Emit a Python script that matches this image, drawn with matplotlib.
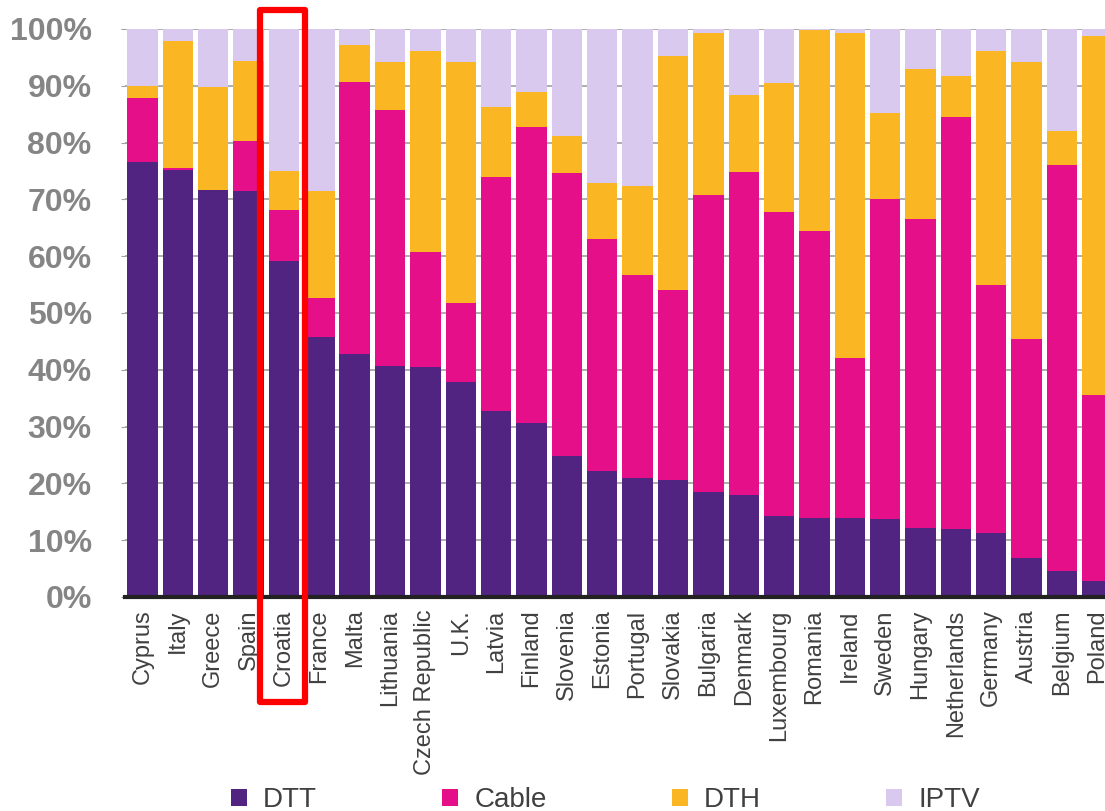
import matplotlib
matplotlib.use("Agg")
import matplotlib.pyplot as plt
import numpy as np
from matplotlib.patches import Patch, Rectangle

plt.rcParams["font.family"] = ["Liberation Sans", "DejaVu Sans"]

countries = ["Cyprus", "Italy", "Greece", "Spain", "Croatia", "France", "Malta",
             "Lithuania", "Czech Republic", "U.K.", "Latvia", "Finland", "Slovenia",
             "Estonia", "Portugal", "Slovakia", "Bulgaria", "Denmark", "Luxembourg",
             "Romania", "Ireland", "Sweden", "Hungary", "Netherlands", "Germany",
             "Austria", "Belgium", "Poland"]

dtt = [76.5, 75.2, 71.7, 71.5, 59.1, 45.7, 42.7, 40.7, 40.4, 37.9, 32.8, 30.7, 24.9,
       22.1, 21.0, 20.6, 18.4, 18.0, 14.3, 13.9, 13.9, 13.8, 12.1, 11.9, 11.2, 6.9,
       4.6, 2.8]
cable = [11.3, 0.3, 0.0, 8.7, 9.0, 6.9, 48.0, 45.0, 20.4, 13.9, 41.2, 52.1, 49.8,
         40.9, 35.6, 33.4, 52.4, 56.9, 53.5, 50.5, 28.1, 56.3, 54.4, 72.6, 43.7, 38.6,
         71.5, 32.8]
dth = [2.1, 22.3, 18.1, 14.2, 6.9, 18.9, 6.5, 8.4, 35.3, 42.3, 12.2, 6.1, 6.4, 9.9,
       15.7, 41.2, 28.4, 13.5, 22.6, 35.4, 57.2, 15.1, 26.5, 7.3, 41.3, 48.6, 5.9, 63.1]
iptv = [10.1, 2.2, 10.2, 5.6, 25.0, 28.5, 2.8, 5.9, 3.9, 5.9, 13.8, 11.1, 18.9, 27.1,
        27.7, 4.8, 0.8, 11.6, 9.6, 0.2, 0.8, 14.8, 7.0, 8.2, 3.8, 5.9, 18.0, 1.3]

series = [("DTT", dtt, "#512482"), ("Cable", cable, "#E40F89"),
          ("DTH", dth, "#FBB624"), ("IPTV", iptv, "#D9C9EE")]

fig = plt.figure(figsize=(11.05, 8.11), dpi=100)
# axes runs past the right edge, so the last bar is cut like in the source
ax = fig.add_axes([0.1131, 0.2639, 0.896, 0.7004])

x = np.arange(len(countries))
bottom = np.zeros(len(countries))
for name, vals, color in series:
    vals = np.array(vals)
    ax.bar(x, vals, bottom=bottom, width=0.86, color=color, zorder=2)
    bottom += vals

ax.set_xlim(-0.495, len(countries) - 0.5)
ax.set_ylim(0, 100)
ax.set_yticks(np.arange(0, 101, 10))
ax.set_yticklabels([f"{v}%" for v in range(0, 101, 10)])
ax.yaxis.grid(True, color="#a0a0a0", linewidth=1.2, zorder=0)
ax.set_axisbelow(True)

ax.set_xticks(x)
ax.set_xticklabels(countries, rotation=90, fontsize=17, color="#404040", va="top")
ax.tick_params(axis="x", length=0, pad=9)
ax.tick_params(axis="y", length=3, color="#a0a0a0", pad=21, labelsize=23,
               labelcolor="#858585")
for lab in ax.get_yticklabels():
    lab.set_fontweight("bold")

for side in ["left", "right", "top"]:
    ax.spines[side].set_visible(False)
ax.spines["bottom"].set_color("#222222")
ax.spines["bottom"].set_linewidth(3)
ax.spines["bottom"].set_zorder(3)

handles = [Patch(facecolor=c, edgecolor="none", label=n) for n, _, c in series]
fig.legend(handles=handles, loc="center left", bbox_to_anchor=(0.209, 0.0136),
           ncol=4, frameon=False, fontsize=20, handlelength=0.58, handleheight=0.55,
           handletextpad=0.58, columnspacing=4.5, borderpad=0, borderaxespad=0,
           labelcolor="#404040")

# red highlight box around Croatia
fig.patches.append(Rectangle((0.2357, 0.1338), 0.0403, 0.8539,
                             transform=fig.transFigure, fill=False,
                             edgecolor="#ff0000", linewidth=4.5,
                             joinstyle="round", zorder=10))

fig.savefig("out.png", dpi=100)
